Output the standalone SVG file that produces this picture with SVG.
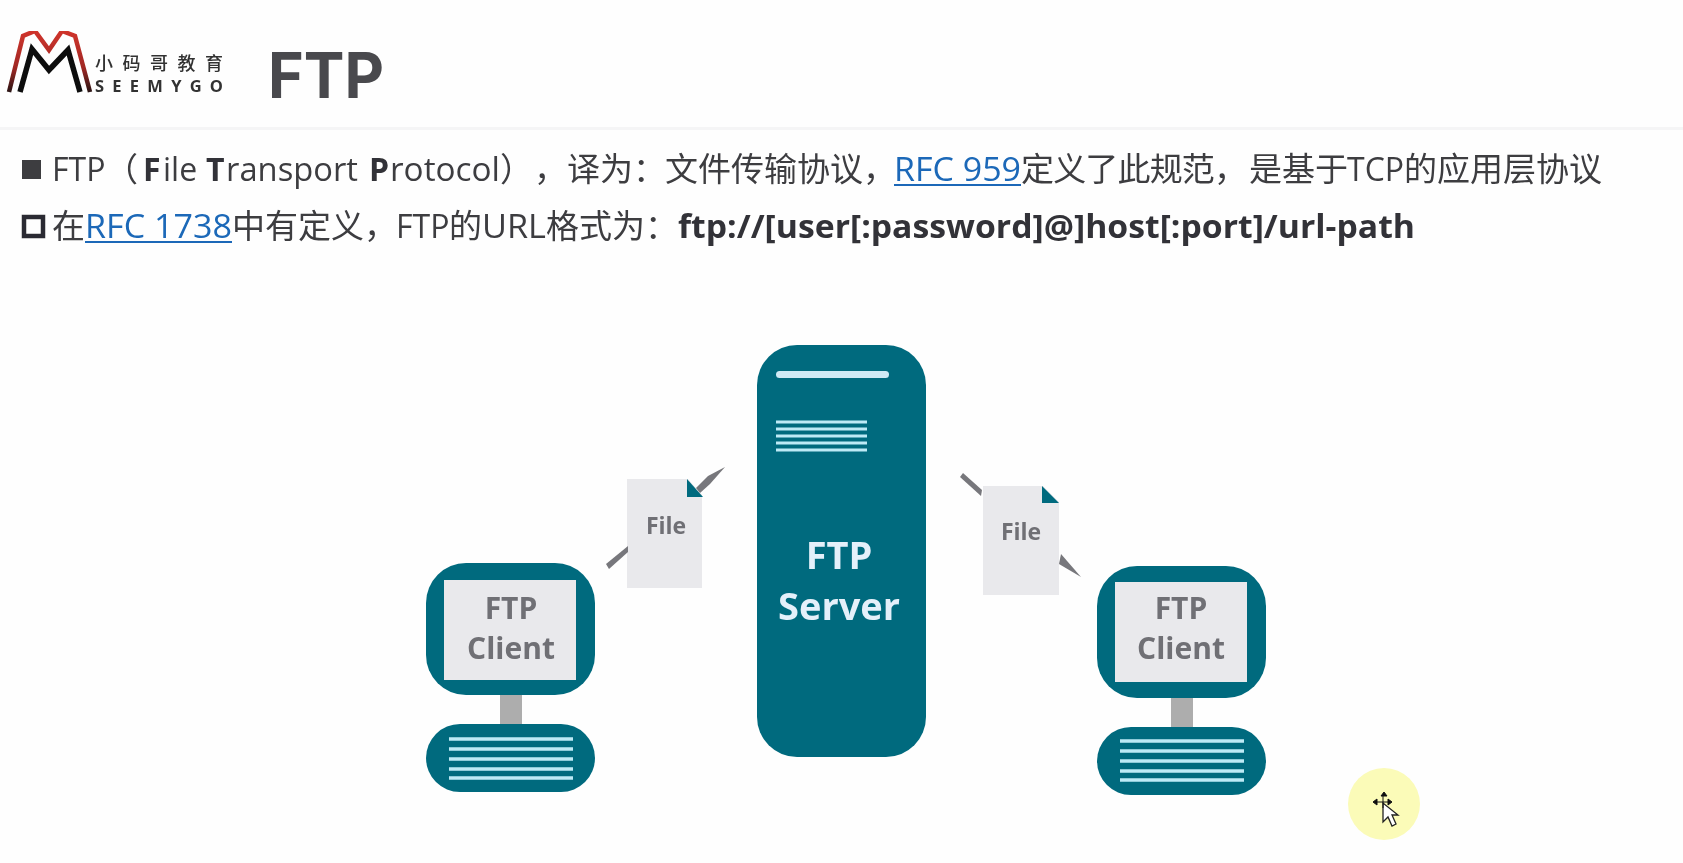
<svg xmlns="http://www.w3.org/2000/svg" width="1683" height="863" viewBox="0 0 1683 863">
<defs>
<linearGradient id="red" x1="0" y1="0" x2="0" y2="1"><stop offset="0" stop-color="#d0342c"/><stop offset="0.6" stop-color="#a02824"/><stop offset="1" stop-color="#2a1515"/></linearGradient>
<filter id="soft" x="0" y="0" width="100%" height="100%"><feGaussianBlur stdDeviation="0.55"/></filter>
</defs>
<style>
.teal{fill:#006a7e}
.paper{fill:#e9e9ec}
.neck{fill:#adadad}
.ln{stroke:#bdeaf6;stroke-width:3;fill:none}
.ln2{stroke:#bdeaf6;stroke-width:3.4;fill:none}
.arrow{fill:#77777b}
.t{font-family:"Noto Sans CJK SC","Open Sans",sans-serif;font-size:33px;fill:#3c3c40}
.l{font-family:"Open Sans","Noto Sans CJK SC",sans-serif;font-size:32px;fill:#3c3c40}
.b{font-family:"Open Sans","Noto Sans CJK SC",sans-serif;font-size:32px;font-weight:700;fill:#333337}
.a{fill:#1a68b8}
.node{font-family:"Open Sans",sans-serif;font-weight:700;text-anchor:middle}
.gt{fill:#6f6f75}
</style>
<rect width="1683" height="863" fill="#fefefe"/>
<g filter="url(#soft)">
<rect y="127" width="1683" height="3" fill="#f5f5f6"/>
<g id="logo">
<polyline points="9,92 23,36 35,31 49,50 62,31 75,36 90,92" fill="none" stroke="url(#red)" stroke-width="4.5"/>
<polyline points="20,92 32,49 49,70 68,50 80,92" fill="none" stroke="#111" stroke-width="5.5"/>
<text x="95" y="70" font-family="'Noto Sans CJK SC',sans-serif" font-weight="500" font-size="18" fill="#333" textLength="128">小码哥教育</text>
<text x="95" y="92" font-family="'Open Sans',sans-serif" font-weight="700" font-size="16.5" fill="#333" textLength="128">SEEMYGO</text>
</g>
<text id="title" x="268" y="98" font-family="Inter,'Open Sans',sans-serif" font-weight="700" font-size="63" fill="#49494d" textLength="116" lengthAdjust="spacingAndGlyphs">FTP</text>
<g id="text-line-1">
<rect x="22" y="160" width="19" height="19" fill="#3c3c40"/>
<text class="l" x="52" y="181">FTP</text>
<text class="t" x="105" y="181">（</text>
<text class="b" x="143" y="181">F</text>
<text class="l" x="163" y="181">ile</text>
<text class="b" x="206" y="181">T</text>
<text class="l" x="226" y="181" textLength="132" lengthAdjust="spacingAndGlyphs">ransport</text>
<text class="b" x="369" y="181">P</text>
<text class="l" x="390" y="181" textLength="110" lengthAdjust="spacingAndGlyphs">rotocol</text>
<text class="t" x="500" y="181">）</text>
<text class="t" x="534" y="181">，</text>
<text class="t" x="567" y="181">译为：</text>
<text class="t" x="665" y="181">文件传输协议，</text>
<text class="l a" x="894" y="181" textLength="127" lengthAdjust="spacingAndGlyphs">RFC 959</text>
<rect x="894" y="184" width="127" height="2" fill="#1a68b8"/>
<text class="t" x="1021" y="181" textLength="226">定义了此规范，</text>
<text class="t" x="1249" y="181">是基于</text>
<text class="l" x="1347" y="181">TCP</text>
<text class="t" x="1404" y="181" textLength="198">的应用层协议</text>
</g>
<g id="text-line-2">
<rect x="24" y="217" width="19" height="19" fill="none" stroke="#2c2c30" stroke-width="4.5"/>
<text class="t" x="52" y="238">在</text>
<text class="l a" x="85" y="238" textLength="147" lengthAdjust="spacingAndGlyphs">RFC 1738</text>
<rect x="85" y="241" width="147" height="2" fill="#1a68b8"/>
<text class="t" x="232" y="238">中有定义，</text>
<text class="l" x="396" y="238">FTP</text>
<text class="t" x="449" y="238">的</text>
<text class="l" x="482" y="238" textLength="64" lengthAdjust="spacingAndGlyphs">URL</text>
<text class="t" x="546" y="238">格式为：</text>
<text class="b" x="678" y="238" textLength="737" lengthAdjust="spacingAndGlyphs">ftp://[user[:password]@]host[:port]/url-path</text>
</g>
<g id="ftp-server">
<rect class="teal" x="757" y="345" width="169" height="412" rx="40"/>
<rect x="776" y="371" width="113" height="7" rx="3.5" fill="#cfeaf5"/>
<path class="ln" d="M776 422H867M776 429H867M776 436H867M776 443H867M776 450H867"/>
<text class="node" x="839" y="569" font-size="38" fill="#e4f0fa">FTP</text>
<text class="node" x="839" y="620" font-size="38" fill="#e4f0fa">Server</text>
</g>
<g id="ftp-client-left">
<rect class="neck" x="500" y="692" width="22" height="36"/>
<rect class="teal" x="426" y="563" width="169" height="132" rx="40"/>
<rect class="paper" x="444" y="580" width="132" height="100"/>
<text class="node gt" x="511" y="619" font-size="30">FTP</text>
<text class="node gt" x="511" y="659" font-size="30">Client</text>
<rect class="teal" x="426" y="724" width="169" height="68" rx="34"/>
<path class="ln2" d="M449 739H573M449 749H573M449 759H573M449 769H573M449 778H573"/>
</g>
<g id="ftp-client-right">
<rect class="neck" x="1171" y="695" width="22" height="36"/>
<rect class="teal" x="1097" y="566" width="169" height="132" rx="40"/>
<rect class="paper" x="1115" y="582" width="132" height="100"/>
<text class="node gt" x="1181" y="619" font-size="30">FTP</text>
<text class="node gt" x="1181" y="659" font-size="30">Client</text>
<rect class="teal" x="1097" y="727" width="169" height="68" rx="34"/>
<path class="ln2" d="M1120 741H1244M1120 751H1244M1120 761H1244M1120 771H1244M1120 780H1244"/>
</g>
<g id="file-left">
<rect class="paper" x="627" y="479" width="75" height="109"/>
<path d="M687 478L703 496V478Z" fill="#fefefe"/>
<path class="teal" d="M687 479L703 497H687Z"/>
<text class="node gt" x="666" y="534" font-size="23">File</text>
</g>
<g id="file-right">
<rect class="paper" x="983" y="486" width="76" height="109"/>
<path d="M1042 485L1060 503V485Z" fill="#fefefe"/>
<path class="teal" d="M1042 486L1059 503H1042Z"/>
<text class="node gt" x="1021" y="540" font-size="23">File</text>
</g>
<g id="connectors">
<path class="arrow" d="M725 467L708 476L696 488L700 493L710 484Z"/>
<path class="arrow" d="M606 564L609 569L628 552L628 546Z"/>
<path class="arrow" d="M963 473L960 477L981 496L982 490Z"/>
<path class="arrow" d="M1081 577L1059 564L1061 554Z"/>
</g>
<g id="cursor">
<circle cx="1384" cy="804" r="36" fill="#fbfbb8"/>
<path d="M1383 803L1383 822L1388 817L1392 826L1396 824L1392 815L1398 815Z" fill="#fff" stroke="#222" stroke-width="1.3"/>
<path d="M1384 792L1381 796H1387ZM1373 802L1377 799V805ZM1392 802L1388 799V805ZM1383 796V808M1377 802H1388" fill="#111" stroke="#111" stroke-width="1"/>
</g>
</g>
</svg>
